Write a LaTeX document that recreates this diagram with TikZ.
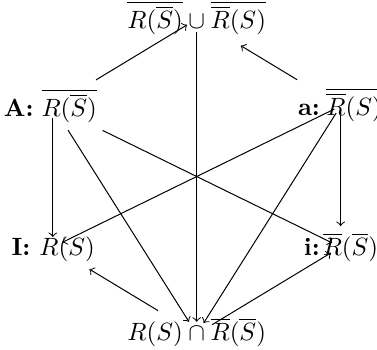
\documentclass[tikz,border=0pt]{standalone}
\usetikzlibrary{calc}
\begin{document}
\begin{tikzpicture}[x=0.4pt,y=-0.4pt,line width=0.4pt,
  arr/.style={->},
  lbl/.style={inner sep=0pt,anchor=base west},
  ctr/.style={inner sep=0pt,anchor=base}]
\useasboundingbox (0,0) rectangle (377,349);
% centres of the six positions
\coordinate (cT) at (196.7,19);
\coordinate (cA) at (52.8,106);
\coordinate (ca) at (340.6,106);
\coordinate (cI) at (52.8,247);
\coordinate (ci) at (340.6,247);
\coordinate (cB) at (196.7,334);
% texts
\node[ctr] (tT) at (196.7,28) {$\overline{R(\overline{S})}\cup\overline{\overline{R}(S)}$};
\node[lbl] (tA) at (3.3,116) {\textbf{A:}\hspace{3.2pt}$\overline{R(\overline{S})}$};
\node[lbl] (ta) at (297.5,115) {\textbf{a:}\hspace{2.6pt}$\overline{\overline{R}(S)}$};
\node[lbl] (tI) at (11,255) {\textbf{I:}\hspace{3.6pt}$R(S)$};
\node[lbl] (ti) at (303.3,255) {\textbf{i:}\hspace{1.2pt}$\overline{R}(\overline{S})$};
\node[ctr] (tB) at (196.7,340) {$R(S)\cap\overline{R}(\overline{S})$};
% connectors
\draw[arr,shorten <=20.2pt,shorten >=4.5pt] (cA) -- (cT);
\draw[arr,shorten <=20.3pt,shorten >=20.6pt] (ca) -- (cT);
\draw[arr,shorten <=5.2pt,shorten >=4.9pt] (cT) -- (cB);
\draw[arr,shorten <=4.8pt,shorten >=4pt] (cA) -- (cI);
\draw[arr,shorten <=3.6pt,shorten >=8.4pt] (ca) -- (ci);
\draw[arr,shorten <=11.4pt,shorten >=5.8pt] (cA) -- (cB);
\draw[arr,shorten <=3.3pt,shorten >=5.2pt] (ca) -- (cB);
\draw[arr,shorten <=22.2pt,shorten >=3.8pt] (cA) -- (ci);
\draw[arr,shorten <=2.8pt,shorten >=4.2pt] (ca) -- (cI);
\draw[arr,shorten <=18.1pt,shorten >=17.1pt] (cB) -- (cI);
\draw[arr,shorten <=7.2pt,shorten >=4.5pt] (cB) -- (ci);
\end{tikzpicture}
\end{document}
